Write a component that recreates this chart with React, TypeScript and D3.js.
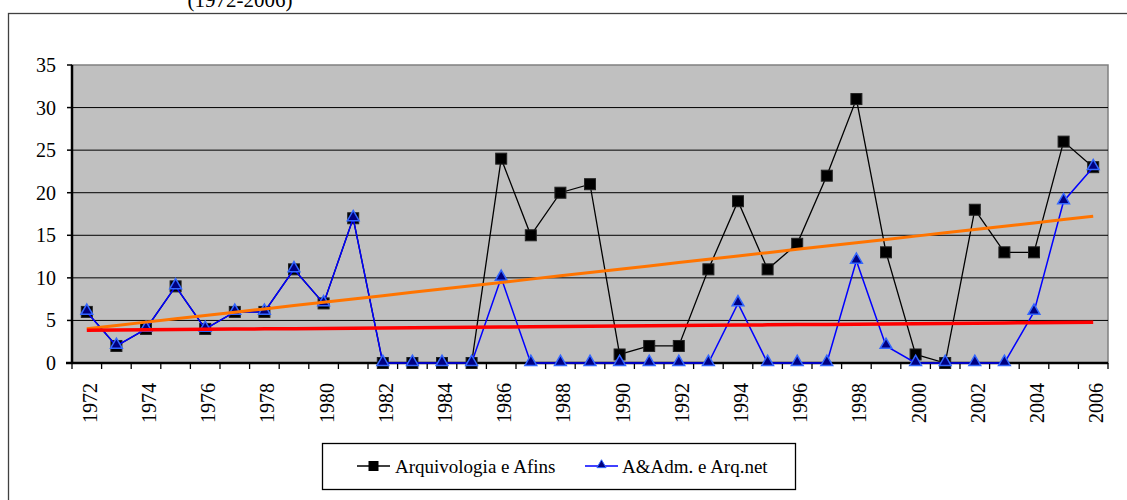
import React from 'react';
import * as d3 from 'd3';

const years = d3.range(1972, 2007).map(String);

const arquivologia = [6, 2, 4, 9, 4, 6, 6, 11, 7, 17, 0, 0, 0, 0, 24, 15, 20, 21, 1, 2, 2, 11, 19, 11, 14, 22, 31, 13, 1, 0, 18, 13, 13, 26, 23];
const admArq = [6, 2, 4, 9, 4, 6, 6, 11, 7, 17, 0, 0, 0, 0, 10, 0, 0, 0, 0, 0, 0, 0, 7, 0, 0, 0, 12, 2, 0, 0, 0, 0, 6, 19, 23];

const yTicks = [0, 5, 10, 15, 20, 25, 30, 35];

const FONT = "'Liberation Serif'";

// least-squares trend, as Excel draws it
function trend(values: number[]) {
  const xs = values.map((_, i) => i);
  const mx = d3.mean(xs) as number;
  const my = d3.mean(values) as number;
  let num = 0;
  let den = 0;
  xs.forEach((x, i) => {
    num += (x - mx) * (values[i] - my);
    den += (x - mx) * (x - mx);
  });
  const slope = num / den;
  return xs.map(x => my + slope * (x - mx));
}

const left = 72;
const right = 1108;
const top = 65;
const bottom = 363;

export default function App() {
  const x = d3.scaleBand<string>().domain(years).range([left, right]).padding(0);
  const cx = (i: number) => (x(years[i]) as number) + x.bandwidth() / 2;
  const y = d3.scaleLinear().domain([0, 35]).range([bottom, top]);

  const line = d3.line<number>()
    .x((_, i) => cx(i))
    .y(d => y(d));

  const tri = d3.symbol().type(d3.symbolTriangle).size(60)() as string;
  const triSmall = d3.symbol().type(d3.symbolTriangle).size(36)() as string;
  const bounds = years.map(d => x(d) as number).concat([right]);

  const textStyle = { fontFamily: FONT, fontSize: 20 };
  const legendStyle = { fontFamily: FONT, fontSize: 19 };

  return (
    <svg width={1127} height={500} style={{ position: 'absolute', left: 0, top: 0, background: '#fff' }}>
      {/* Title, cut off at the top as in the original page */}
      <text x={240} y={7} textAnchor="middle" style={{ fontFamily: FONT, fontSize: 21 }}>(1972-2006)</text>

      {/* outer frame */}
      <rect x={8.5} y={13.5} width={1140} height={520} fill="none" stroke="#404040" strokeWidth={1.3} />

      {/* plot background */}
      <rect x={left} y={top} width={right - left} height={bottom - top} fill="#c0c0c0" stroke="#808080" strokeWidth={1.5} />

      {/* grid lines */}
      {yTicks.filter(t => t > 0 && t < 35).map(t => (
        <line key={t} x1={left} x2={right} y1={y(t)} y2={y(t)} stroke="#000" strokeWidth={1} />
      ))}

      {/* y axis */}
      <line x1={left} x2={left} y1={top} y2={bottom} stroke="#000" strokeWidth={2.5} />
      {yTicks.map(t => (
        <g key={t} transform={`translate(0,${y(t)})`}>
          <line x1={left - 5} x2={left} stroke="#000" strokeWidth={1.5} />
          <text x={left - 16} dy="0.35em" textAnchor="end" style={textStyle}>{t}</text>
        </g>
      ))}

      {/* x axis, ticks at category boundaries */}
      <line x1={left - 6} x2={right} y1={bottom} y2={bottom} stroke="#000" strokeWidth={2.5} />
      {bounds.map((b, i) => (
        <line key={i} x1={b} x2={b} y1={bottom} y2={bottom + 6} stroke="#000" strokeWidth={1.3} />
      ))}
      {years.filter((_, i) => i % 2 === 0).map(d => (
        <text
          key={d}
          transform={`translate(${(x(d) as number) + x.bandwidth() / 2 + 3},${bottom + 20}) rotate(-90)`}
          textAnchor="end"
          dy="0.35em"
          style={textStyle}
        >
          {d}
        </text>
      ))}

      {/* Arquivologia e Afins */}
      <path d={line(arquivologia) as string} fill="none" stroke="#000" strokeWidth={1.3} />
      {arquivologia.map((v, i) => (
        <rect key={i} x={cx(i) - 5.5} y={y(v) - 5.5} width={11} height={11} fill="#000" stroke="#222" strokeWidth={1} />
      ))}

      {/* A&Adm. e Arq.net */}
      <path d={line(admArq) as string} fill="none" stroke="#0000ff" strokeWidth={1.5} />
      {admArq.map((v, i) => (
        <path key={i} transform={`translate(${cx(i)},${y(v) - 1})`} d={tri} fill="#000080" stroke="#3366ff" strokeWidth={1.5} />
      ))}

      {/* trend lines */}
      <path d={line(trend(arquivologia)) as string} fill="none" stroke="#ff7400" strokeWidth={3} />
      <path d={line(trend(admArq)) as string} fill="none" stroke="#ff0000" strokeWidth={3.5} />

      {/* legend */}
      <rect x={322.5} y={443.5} width={473} height={46} fill="#fff" stroke="#000" strokeWidth={1.3} />
      <g transform="translate(357,466)">
        <line x1={0} x2={33} stroke="#000" strokeWidth={1.5} />
        <rect x={11.5} y={-5} width={10} height={10} fill="#000" />
        <text x={38} dy="0.35em" style={legendStyle}>Arquivologia e Afins</text>
      </g>
      <g transform="translate(585,466)">
        <line x1={0} x2={33} stroke="#0000ff" strokeWidth={1.5} />
        <path transform="translate(16.5,-1)" d={triSmall} fill="#000080" stroke="#3366ff" strokeWidth={1} />
        <text x={37} dy="0.35em" style={legendStyle}>A&amp;Adm. e Arq.net</text>
      </g>
    </svg>
  );
}
